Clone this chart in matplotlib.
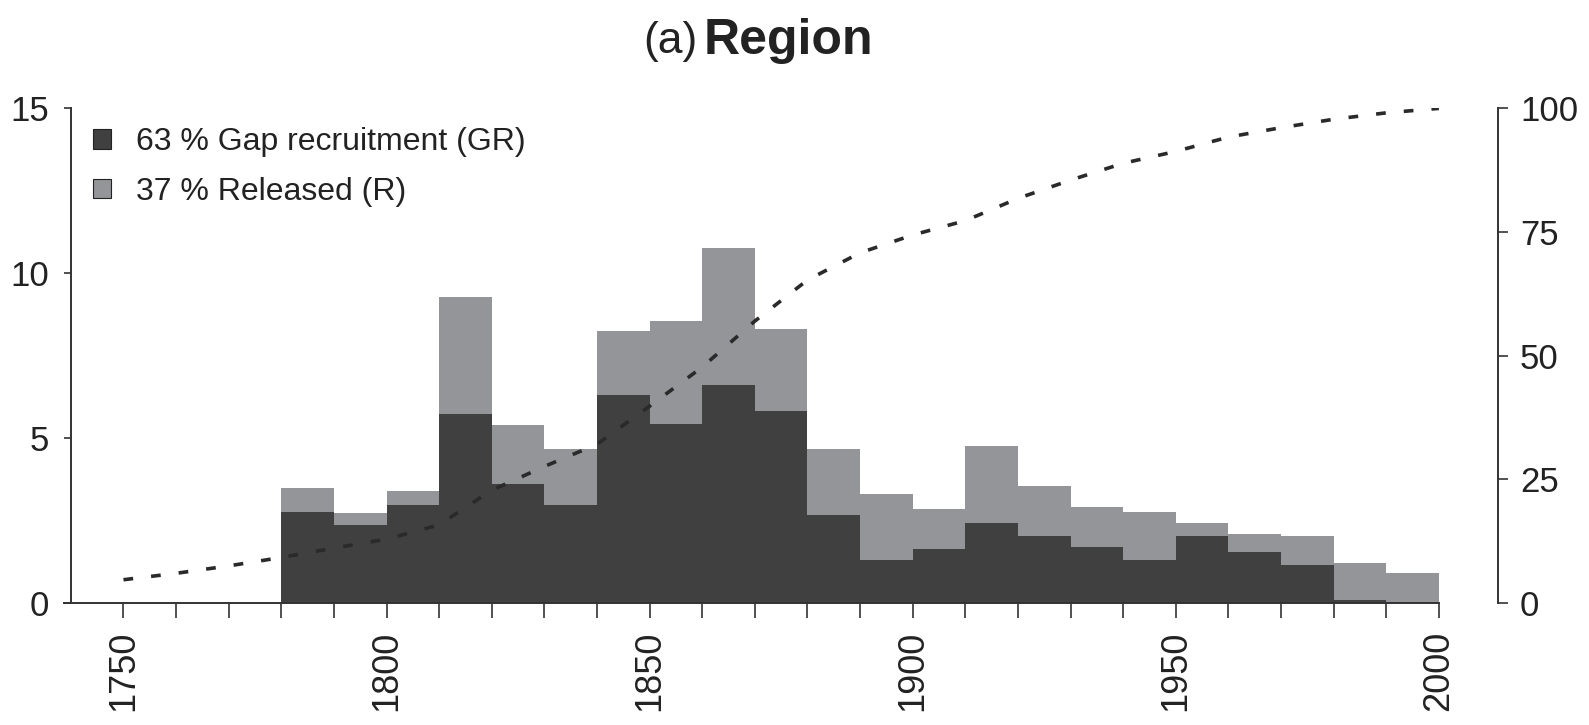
import matplotlib
matplotlib.use("Agg")
import matplotlib.pyplot as plt
from matplotlib import font_manager
import numpy as np

# ---- data ----
bin_start = [1780, 1790, 1800, 1810, 1820, 1830, 1840, 1850, 1860, 1870, 1880,
             1890, 1900, 1910, 1920, 1930, 1940, 1950, 1960, 1970, 1980, 1990]
gap_recruitment = [2.75, 2.35, 2.98, 5.72, 3.62, 2.98, 6.30, 5.42, 6.60, 5.81, 2.67,
                   1.30, 1.63, 2.44, 2.04, 1.71, 1.30, 2.04, 1.56, 1.14, 0.10, 0.03]
released = [0.73, 0.38, 0.41, 3.55, 1.78, 1.68, 1.94, 3.13, 4.16, 2.50, 2.01,
            2.02, 1.21, 2.32, 1.52, 1.20, 1.46, 0.39, 0.54, 0.90, 1.12, 0.89]
cum_years = [1750, 1760, 1770, 1780, 1790, 1800, 1810, 1820, 1830, 1840, 1850, 1860, 1870,
             1880, 1890, 1900, 1910, 1920, 1930, 1940, 1950, 1960, 1970, 1980, 1990, 2000]
cum_percent = [4.7, 6.0, 7.5, 9.2, 11.1, 12.9, 15.8, 22.8, 27.6, 32.1, 39.8, 47.7, 57.0,
               65.3, 70.8, 74.4, 77.3, 81.8, 85.5, 88.9, 91.3, 94.2, 96.1, 97.8, 99.1, 100.0]
legend_labels = ["63 % Gap recruitment (GR)", "37 % Released (R)"]
x_major = [1750, 1800, 1850, 1900, 1950, 2000]
left_ticks = [0, 5, 10, 15]
right_ticks = [0, 25, 50, 75, 100]

# ---- fonts ----
available = {f.name for f in font_manager.fontManager.ttflist}
fam = [f for f in ["Liberation Sans Narrow", "Liberation Sans", "DejaVu Sans"] if f in available]
plt.rcParams['font.family'] = fam
plt.rcParams['lines.scale_dashes'] = False

DARK = "#404040"
LIGHT = "#939598"
SPINE = "#333333"
TXT = "#222222"

fig = plt.figure(figsize=(15.89, 7.25), dpi=100)
ax = fig.add_axes([0.0446, 0.1683, 0.898, 0.6822])

b1 = ax.bar(bin_start, gap_recruitment, width=10, align='edge', color=DARK, linewidth=0)
b2 = ax.bar(bin_start, released, width=10, align='edge', bottom=gap_recruitment,
            color=LIGHT, linewidth=0)

ax.set_xlim(1740, 2011.2)
ax.set_ylim(0, 15)

ax2 = ax.twinx()
ax2.plot(cum_years, cum_percent, color="#2a2a2a", lw=2.6, dashes=(7, 13))
ax2.set_ylim(0, 100)
ax2.set_xlim(1740, 2011.2)

# spines
for s in ["top", "right"]:
    ax.spines[s].set_visible(False)
for s in ["top", "left", "bottom"]:
    ax2.spines[s].set_visible(False)
for sp in [ax.spines["left"], ax.spines["bottom"], ax2.spines["right"]]:
    sp.set_color(SPINE)
    sp.set_linewidth(1.4)
ax.spines["bottom"].set_bounds(1738.6, 2000)
ax.spines["left"].set_bounds(0, 15)

ax.set_xticks(np.arange(1750, 2001, 10))
ax.set_xticklabels([str(y) if y in x_major else "" for y in np.arange(1750, 2001, 10)],
                   rotation=90, fontsize=26)
ax.tick_params(axis='x', direction='out', length=11, width=1.2, color=SPINE, pad=9,
               labelcolor=TXT)
ax.set_yticks(left_ticks)
ax.tick_params(axis='y', direction='out', length=5, width=1.2, color=SPINE, pad=11,
               labelsize=25, labelcolor=TXT)
ax2.set_yticks(right_ticks)
ax2.tick_params(axis='y', direction='out', length=7, width=1.2, color=SPINE, pad=9,
                labelsize=25, labelcolor=TXT)

leg = ax.legend([b1, b2], legend_labels, loc='upper left', bbox_to_anchor=(0.0155, 0.962),
                frameon=False, fontsize=23, handlelength=0.55, handleheight=0.55,
                handletextpad=0.8, labelspacing=0.62, borderaxespad=0, borderpad=0)
for h in leg.legend_handles:
    h.set_edgecolor(TXT)
    h.set_linewidth(0.8)
for t in leg.get_texts():
    t.set_color(TXT)

fig.text(698 / 1589, 1 - 41 / 725, "(a)", ha='right', va='center', fontsize=32,
         color=TXT)
fig.text(704 / 1589, 1 - 41 / 725, "Region", ha='left', va='center', fontsize=36,
         fontweight='bold', color=TXT)

fig.savefig("out.png", dpi=100)
